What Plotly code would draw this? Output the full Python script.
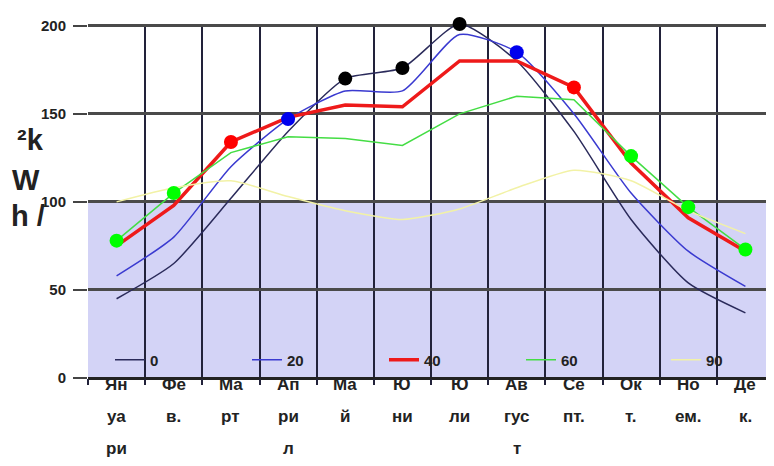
import plotly.graph_objects as go

months = ["Ян уа ри", "Фе в.", "Ма рт", "Ап ри л", "Ма й", "Ю ни", "Ю ли",
          "Ав гус т", "Се пт.", "Ок т.", "Но ем.", "Де к."]
angles = ["0", "20", "40", "60", "90"]
s0 = [45, 65, 102, 140, 170, 176, 201, 180, 140, 90, 54, 37]
s20 = [58, 80, 120, 147, 163, 163, 195, 185, 150, 105, 72, 52]
s40 = [75, 98, 134, 148, 155, 154, 180, 180, 165, 122, 91, 72]
s60 = [78, 105, 128, 137, 136, 132, 150, 160, 158, 126, 97, 73]
s90 = [100, 108, 112, 103, 95, 90, 96, 108, 118, 112, 95, 82]
best = ["60", "60", "40", "20", "0", "0", "0", "20", "40", "60", "60", "60"]
yticks = [0, 50, 100, 150, 200]
ytitle = ["²k", "W", "h /"]

series = {"0": s0, "20": s20, "40": s40, "60": s60, "90": s90}
line_col = {"0": "#2a2a5a", "20": "#3a3ad0", "40": "#ee1a1a", "60": "#44dd44", "90": "#f2f2a6"}
line_w = {"0": 1.5, "20": 1.5, "40": 3.5, "60": 1.5, "90": 1.5}
mark_col = {"0": "#000000", "20": "#0000ee", "40": "#ff0000", "60": "#00ff00", "90": "#eeee00"}
shape = {"0": "spline", "20": "spline", "40": "linear", "60": "linear", "90": "spline"}
leg = {"0": "legend", "20": "legend", "40": "legend", "60": "legend", "90": "legend2"}

# page body has an 8px margin: figure origin sits at (8, 8) in the window
OFF = 8
W, H = 774 - OFF, 466 - OFF
L, R, T, B = 88 - OFF, 0, 24 - OFF, 88
PW, PH = W - L - R, H - T - B
PLOT_BOTTOM = 378  # window px

x = list(range(len(months)))
fig = go.Figure()
for a in angles:
    fig.add_trace(go.Scatter(x=x, y=series[a], mode="lines", name=a, legend=leg[a],
                             line=dict(color=line_col[a], width=line_w[a], shape=shape[a],
                                       smoothing=0.6)))
for a in angles:
    idx = [i for i in x if best[i] == a]
    if idx:
        fig.add_trace(go.Scatter(x=idx, y=[series[a][i] for i in idx], mode="markers",
                                 showlegend=False, cliponaxis=False,
                                 marker=dict(color=mark_col[a], size=14, line=dict(width=0))))

fig.add_shape(type="rect", xref="paper", x0=0, x1=1, yref="y", y0=0, y1=100,
              fillcolor="#d3d3f6", line=dict(width=0), layer="below")

font_b = dict(family="Liberation Sans", size=15, color="#222222", weight="bold")

ann = []
line_centers = [384, 416, 448]
for i, m in enumerate(months):
    for j, part in enumerate(m.split(" ")):
        ann.append(dict(x=i, xref="x", y=0, yref="paper", yshift=-(line_centers[j] - PLOT_BOTTOM),
                        xanchor="center", yanchor="middle", text=part, showarrow=False,
                        font=dict(family="Liberation Sans", size=17, color="#222222", weight="bold")))
ytitle_pos = [(30, 140), (26, 180), (28, 216)]
for part, (px, py) in zip(ytitle, ytitle_pos):
    ann.append(dict(x=(px - 88) / PW, xref="paper", y=(PLOT_BOTTOM - py) / PH, yref="paper",
                    xanchor="center", yanchor="middle", text=part, showarrow=False,
                    font=dict(family="Liberation Sans", size=29, color="#222222", weight="bold")))

legend_common = dict(orientation="h", xanchor="left", yanchor="middle",
                     bgcolor="rgba(0,0,0,0)", entrywidthmode="pixels",
                     font=font_b, itemwidth=30, tracegroupgap=0)

fig.update_layout(
    width=W, height=H,
    margin=dict(l=L, r=R, t=T, b=B),
    paper_bgcolor="white", plot_bgcolor="white",
    showlegend=True,
    legend=dict(x=(110 - 88) / PW, y=(PLOT_BOTTOM - 360) / PH, entrywidth=92, **legend_common),
    legend2=dict(x=(666 - 88) / PW, y=(PLOT_BOTTOM - 360) / PH, **legend_common),
    annotations=ann,
    xaxis=dict(range=[-0.5, 11.5], tickvals=[i - 0.5 for i in range(13)], showticklabels=False,
               showgrid=True, gridcolor="#22223a", gridwidth=2, zeroline=False,
               ticks="outside", ticklen=6, tickcolor="#22223a", tickwidth=2,
               showline=False, automargin=False),
    yaxis=dict(range=[0, 201], tickvals=yticks, ticktext=[str(v) for v in yticks],
               showgrid=True, gridcolor="#4a4a4a", gridwidth=2.5, zeroline=True,
               zerolinecolor="#222222", zerolinewidth=2.5,
               ticks="outside", ticklen=14, tickcolor="#444444", tickwidth=2,
               tickfont=font_b, ticklabelstandoff=4, showline=False, automargin=False),
)

fig.write_html("out.html")
